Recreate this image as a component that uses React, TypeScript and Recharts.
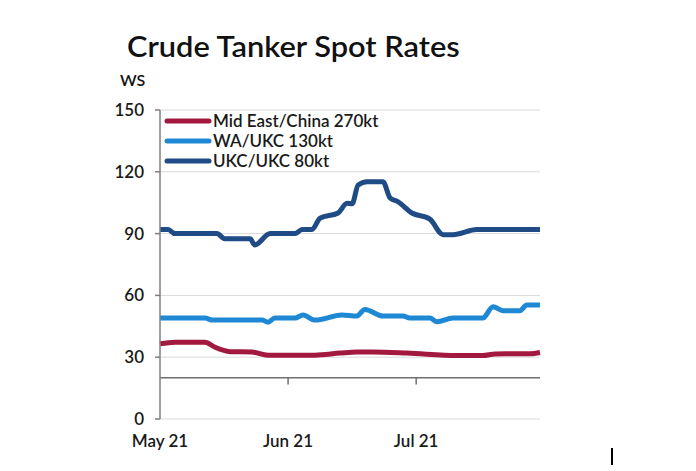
import React from 'react'
import {
  LineChart,
  Line,
  XAxis,
  YAxis,
  CartesianGrid,
  Legend,
  ReferenceLine,
} from 'recharts'

document.body.style.margin = '0'

// x = days since 1 May 2021 (1 Jun = 31, 1 Jul = 61)
const X_TICKS = [1, 31, 61]
const X_LABELS: Record<number, string> = { 1: 'May 21', 31: 'Jun 21', 61: 'Jul 21' }
const Y_TICKS = [0, 30, 60, 90, 120, 150]

const midEastDays = [1, 4.5, 11.5, 13.9, 17.4, 22.5, 26.3, 37.3, 43.2, 47.1, 50.9, 58.8, 70.6, 76.6, 79.5, 87.7, 90]
const midEastVals = [36.5, 37.3, 37.3, 34.8, 32.7, 32.5, 31, 31, 32, 32.5, 32.5, 32, 30.8, 30.8, 31.6, 31.7, 32.3]

const waUkcDays = [1, 11.5, 13.4, 24.9, 26.3, 27.9, 32.6, 34.5, 37.3, 43.6, 47.1, 49, 53.2, 57.9, 59.5, 64.2, 65.9, 69.6, 76.6, 79, 81.3, 85.3, 86.9, 90]
const waUkcVals = [49, 49, 48, 48, 47, 49, 49, 50.5, 48, 50.5, 50, 53.2, 50, 50, 49, 49, 47.2, 49, 49, 54.5, 52.6, 52.6, 55.3, 55.3]

const ukcUkcDays = [1, 2.9, 4.5, 14.3, 16.2, 22.1, 23.2, 26.8, 32.6, 34.3, 36.6, 38.5, 42.7, 44.8, 46, 47.4, 49.5, 53.2, 54.9, 56.7, 60, 64.2, 67.3, 69.6, 75.2, 90]
const ukcUkcVals = [92, 92, 90, 90, 87.5, 87.5, 84.5, 90, 90, 92, 92, 97.5, 100, 104.7, 104.5, 113.6, 115.2, 115.2, 107.3, 105.5, 100, 97, 89.5, 89.5, 92, 92]

const toPoints = (days: number[], vals: number[]) => days.map((d, i) => ({ d, v: vals[i] }))

const SERIES = [
  { name: 'Mid East/China 270kt', color: '#A3183E', data: toPoints(midEastDays, midEastVals) },
  { name: 'WA/UKC 130kt', color: '#1E88D4', data: toPoints(waUkcDays, waUkcVals) },
  { name: 'UKC/UKC 80kt', color: '#1F4B87', data: toPoints(ukcUkcDays, ukcUkcVals) },
]
const SERIES_ORDER = SERIES.map((s) => s.name)

const FONT = 'Lato, "Open Sans", sans-serif'
const AXIS_GREY = '#7f7f7f'
const TEXT = '#1a1a1a'

function LegendBox({ payload }: any) {
  // keep the series order, not the alphabetical one
  const items = [...(payload || [])].sort(
    (a: any, b: any) => SERIES_ORDER.indexOf(a.value) - SERIES_ORDER.indexOf(b.value)
  )
  return (
    <div style={{ fontFamily: FONT }}>
      {items.map((p: any) => (
        <div key={p.value} style={{ display: 'flex', alignItems: 'center', height: 20 }}>
          <svg width={48} height={8} style={{ marginRight: 1 }}>
            <line x1={3} y1={4} x2={45} y2={4} stroke={p.color} strokeWidth={5} strokeLinecap="round" />
          </svg>
          <span style={{ fontSize: 17, fontWeight: 600, color: TEXT, lineHeight: '20px', whiteSpace: 'nowrap' }}>
            {p.value}
          </span>
        </div>
      ))}
    </div>
  )
}

export default function App() {
  return (
    <div style={{ position: 'relative', width: 696, height: 471, background: '#fff', fontFamily: FONT }}>
      <div
        style={{
          position: 'absolute',
          left: 127,
          top: 28,
          fontSize: 28,
          fontWeight: 600,
          color: '#111',
          lineHeight: '36px',
          whiteSpace: 'nowrap',
          transform: 'scaleX(1.1)',
          transformOrigin: 'left center',
        }}
      >
        Crude Tanker Spot Rates
      </div>
      <div style={{ position: 'absolute', left: 120, top: 70, fontSize: 16, fontWeight: 600, color: '#111', lineHeight: '20px' }}>
        WS
      </div>

      <LineChart width={696} height={471} margin={{ top: 110, right: 156, bottom: 22, left: 110 }}>
        <CartesianGrid vertical={false} stroke="#d9d9d9" />
        <XAxis
          type="number"
          dataKey="d"
          domain={[1, 90]}
          ticks={X_TICKS}
          tickFormatter={(v) => X_LABELS[v] ?? ''}
          axisLine={false}
          tickLine={false}
          tickSize={6}
          tickMargin={10}
          height={30}
          tick={{ fontSize: 17, fontWeight: 600, fill: TEXT, fontFamily: FONT }}
          allowDuplicatedCategory={false}
        />
        <YAxis
          type="number"
          domain={[0, 150]}
          ticks={Y_TICKS}
          width={50}
          axisLine={{ stroke: AXIS_GREY, strokeWidth: 1.5 }}
          tickLine={{ stroke: AXIS_GREY, strokeWidth: 1.5 }}
          tickSize={5}
          tickMargin={11}
          tick={{ fontSize: 17, fontWeight: 600, fill: TEXT, fontFamily: FONT }}
        />
        <ReferenceLine y={20} stroke="#6f6f6f" strokeWidth={1.5} />
        <ReferenceLine segment={[{ x: 31, y: 20 }, { x: 31, y: 16.8 }]} stroke="#6f6f6f" strokeWidth={1.5} />
        <ReferenceLine segment={[{ x: 61, y: 20 }, { x: 61, y: 16.8 }]} stroke="#6f6f6f" strokeWidth={1.5} />
        <Legend
          layout="vertical"
          align="center"
          verticalAlign="middle"
          wrapperStyle={{ left: 164, top: 111, width: 'auto' }}
          content={<LegendBox />}
        />
        {SERIES.map((s) => (
          <Line
            key={s.name}
            data={s.data}
            dataKey="v"
            name={s.name}
            type="monotone"
            stroke={s.color}
            strokeWidth={5}
            strokeLinejoin="round"
            dot={false}
            activeDot={false}
            isAnimationActive={false}
          />
        ))}
      </LineChart>

      <div style={{ position: 'absolute', left: 611, top: 448, width: 1.5, height: 17, background: '#000' }} />
    </div>
  )
}
